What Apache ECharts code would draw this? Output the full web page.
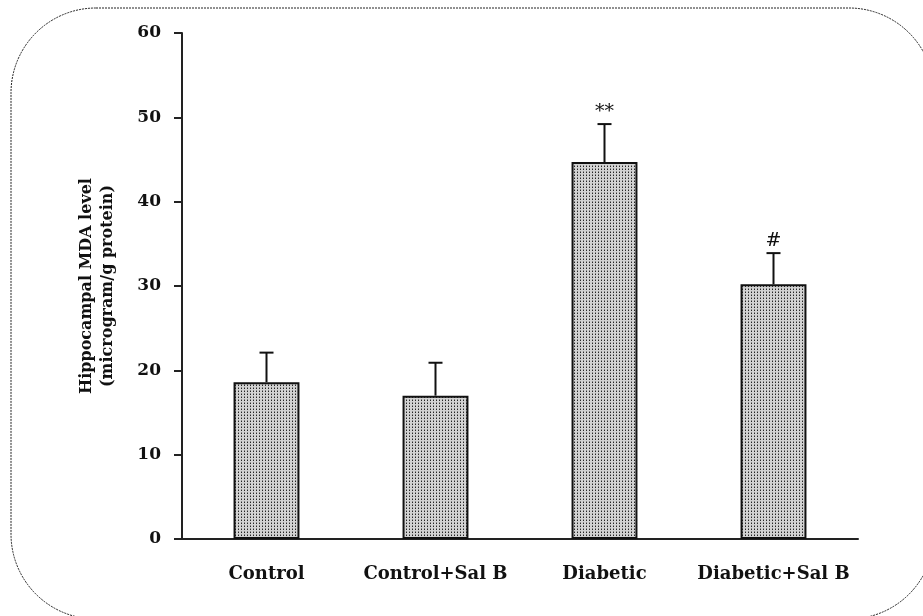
<!DOCTYPE html>
<html><head><meta charset="utf-8">
<script src="https://cdn.jsdelivr.net/npm/echarts@6/dist/echarts.min.js"></script>
<style>html,body{margin:0;padding:0;background:#fff}#c{width:923px;height:616px}</style>
</head><body><div id="c"></div>
<script>
const categories = ['Control', 'Control+Sal B', 'Diabetic', 'Diabetic+Sal B'];
const meanValues = [18.6, 17.0, 44.7, 30.2];
const errorValues = [3.5, 3.9, 4.5, 3.7];
const significance = ['', '', '**', '#'];
const yTickLabels = ['0', '10', '20', '30', '40', '50', '60'];

// dotted fill pattern
const tile = document.createElement('canvas');
tile.width = 3; tile.height = 3;
const tc = tile.getContext('2d');
tc.fillStyle = '#d2d2d2'; tc.fillRect(0, 0, 3, 3);
tc.fillStyle = '#262626'; tc.fillRect(1, 1, 1, 1);
tc.fillStyle = '#858585'; tc.fillRect(1, 0, 1, 1);

const FONT = '"DejaVu Serif", "Liberation Serif", serif';
const chart = echarts.init(document.getElementById('c'), null, {renderer: 'canvas'});
const errData = categories.map((c, i) => [i, meanValues[i], errorValues[i]]);

chart.setOption({
  animation: false,
  backgroundColor: '#fff',
  graphic: [{
    type: 'rect', silent: true, z: -10,
    shape: {x: 11, y: 8, width: 923, height: 611, r: 85},
    style: {fill: 'none', stroke: '#222', lineWidth: 1, lineDash: [2, 1]}
  }],
  grid: {left: 182, right: 65, top: 33, bottom: 77, containLabel: false},
  xAxis: {
    type: 'category', data: categories,
    axisLine: {lineStyle: {color: '#222', width: 2}},
    axisTick: {show: false},
    axisLabel: {interval: 0, margin: 26, color: '#111', fontFamily: FONT, fontWeight: 'bold', fontSize: 18}
  },
  yAxis: {
    type: 'value', min: 0, max: 60, interval: 10,
    name: 'Hippocampal MDA level\n(microgram/g protein)',
    nameLocation: 'middle', nameRotate: 90, nameGap: 64,
    nameTextStyle: {color: '#111', fontFamily: FONT, fontWeight: 'bold', fontSize: 16, lineHeight: 21},
    axisLine: {show: true, lineStyle: {color: '#222', width: 2}},
    axisTick: {show: true, inside: false, length: 8, lineStyle: {color: '#222', width: 2}},
    splitLine: {show: false},
    axisLabel: {margin: 21, color: '#111', fontFamily: FONT, fontWeight: 'bold', fontSize: 17,
      formatter: v => yTickLabels[Math.round(v / 10)]}
  },
  series: [{
    type: 'bar', data: meanValues, barWidth: '39%',
    itemStyle: {color: {image: tile, repeat: 'repeat'}, borderColor: '#111', borderWidth: 2}
  }, {
    type: 'custom', data: errData, z: 5,
    renderItem: function (params, api) {
      const i = api.value(0), m = api.value(1), e = api.value(2);
      const base = api.coord([i, m]);
      const top = api.coord([i, m + e]);
      const half = 7;
      const children = [
        {type: 'line', shape: {x1: base[0], y1: base[1], x2: top[0], y2: top[1]}, style: {stroke: '#111', lineWidth: 2}},
        {type: 'line', shape: {x1: top[0] - half, y1: top[1], x2: top[0] + half, y2: top[1]}, style: {stroke: '#111', lineWidth: 2}}
      ];
      const s = significance[i];
      if (s) {
        children.push({type: 'text', style: {text: s, x: top[0], y: top[1] - 3, align: 'center', verticalAlign: 'bottom',
          fontFamily: FONT, fontSize: 19, fill: '#111'}});
      }
      return {type: 'group', children: children};
    }
  }]
});
</script></body></html>
